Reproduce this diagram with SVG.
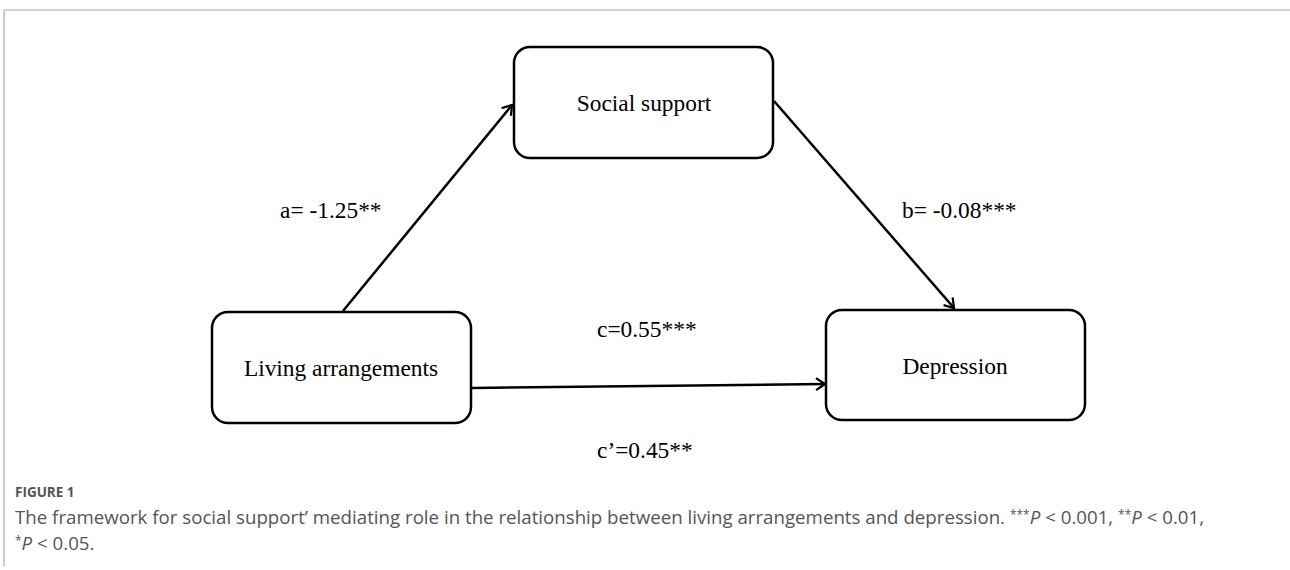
<svg xmlns="http://www.w3.org/2000/svg" width="1290" height="570" viewBox="0 0 1290 570">
<style>
.box{fill:#fff;stroke:#000;stroke-width:2.5}
.lbl{font-family:"Liberation Serif",serif;font-size:23.4px;fill:#000}
.edge{stroke:#000;stroke-width:2.5;fill:none;marker-end:url(#arr)}
.cap{font-family:"Open Sans","Lato",sans-serif;fill:#555}
</style>
<defs>
<marker id="arr" markerWidth="14" markerHeight="14" refX="11" refY="7" orient="auto" markerUnits="userSpaceOnUse">
<path d="M2,1 L11,7 L2,13" fill="none" stroke="#000" stroke-width="2.2"/>
</marker>
</defs>
<rect width="1290" height="570" fill="#fff"/>
<g id="frame" stroke="#aaa" stroke-width="1.2" fill="none">
<line x1="4" y1="10" x2="1290" y2="10"/>
<line x1="4" y1="10" x2="4" y2="566"/>
</g>
<g id="connectors">
<line class="edge" x1="343" y1="311" x2="512" y2="105"/>
<line class="edge" x1="774" y1="101" x2="954" y2="308"/>
<line class="edge" x1="471" y1="388" x2="825" y2="384"/>
</g>
<g id="social-support">
<rect class="box" x="514" y="47" width="259" height="111" rx="16"/>
<text class="lbl" x="644" y="111" text-anchor="middle">Social support</text>
</g>
<g id="living-arrangements">
<rect class="box" x="212" y="312" width="259" height="111" rx="16"/>
<text class="lbl" x="341" y="376" text-anchor="middle">Living arrangements</text>
</g>
<g id="depression">
<rect class="box" x="826" y="310" width="259" height="110" rx="16"/>
<text class="lbl" x="955" y="374" text-anchor="middle">Depression</text>
</g>
<g id="labels">
<text class="lbl" x="280" y="218">a= -1.25**</text>
<text class="lbl" x="902" y="218">b= -0.08***</text>
<text class="lbl" x="597" y="337">c=0.55***</text>
<text class="lbl" x="597" y="458">c’=0.45**</text>
</g>
<g id="caption">
<text class="cap" x="15" y="497" font-size="13.5" font-weight="bold">FIGURE 1</text>
<text class="cap" x="15" y="524" font-size="18.7">The framework for social support’ mediating role in the relationship between living arrangements and depression. <tspan font-size="12" dy="-5">***</tspan><tspan dy="5" font-style="italic">P</tspan> &lt; 0.001, <tspan font-size="12" dy="-5">**</tspan><tspan dy="5" font-style="italic">P</tspan> &lt; 0.01,</text>
<text class="cap" x="15" y="550" font-size="18.7"><tspan font-size="12" dy="-5">*</tspan><tspan dy="5" font-style="italic">P</tspan> &lt; 0.05.</text>
</g>
</svg>
